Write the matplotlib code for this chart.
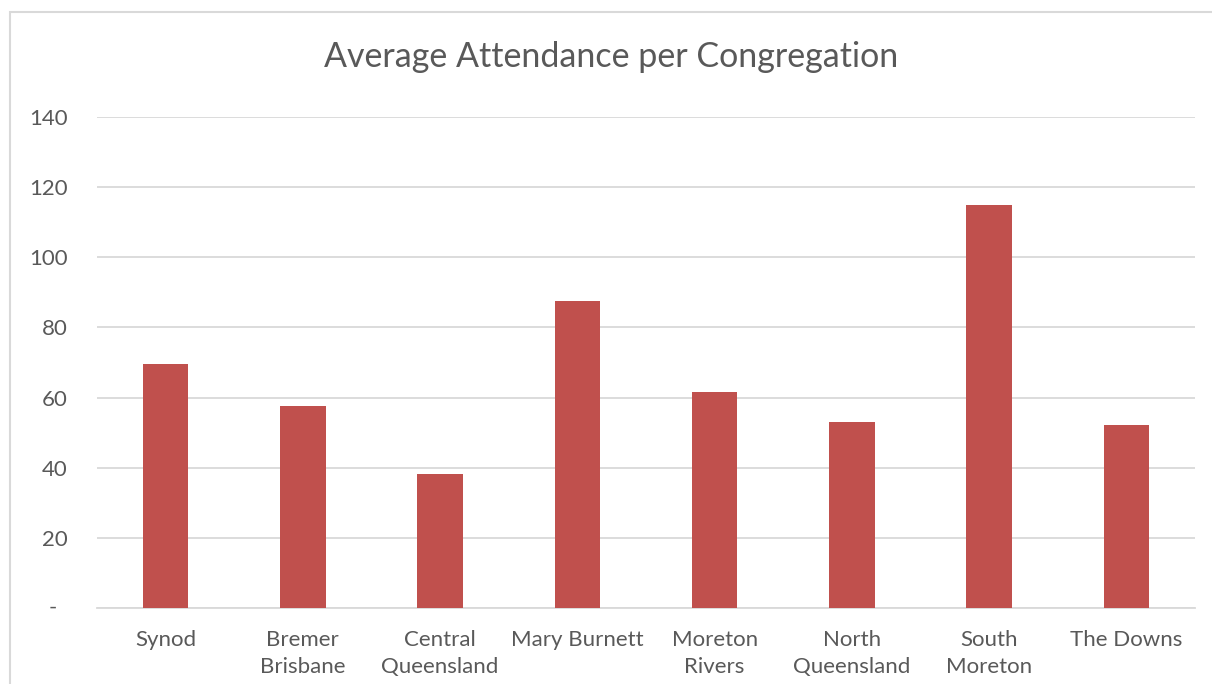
import matplotlib.pyplot as plt
from matplotlib.patches import Rectangle


# ----------------------------------------------------
# Data
# ----------------------------------------------------

categories = [
    "Synod",
    "Bremer\nBrisbane",
    "Central\nQueensland",
    "Mary Burnett",
    "Moreton\nRivers",
    "North\nQueensland",
    "South\nMoreton",
    "The Downs",
]

attendance = [69.5, 57.5, 38.1, 87.5, 61.6, 53.1, 115.0, 52.3]

y_ticks = [0, 20, 40, 60, 80, 100, 120, 140]
y_tick_labels = ["-", "20", "40", "60", "80", "100", "120", "140"]


# ----------------------------------------------------
# Style
# ----------------------------------------------------

plt.rcParams["font.family"] = ["Lato", "DejaVu Sans"]

text_color = "#595959"
grid_color = "#D9D9D9"
bar_color = "#C0504D"


# ----------------------------------------------------
# Figure
# ----------------------------------------------------

fig = plt.figure(figsize=(12.12, 6.84), dpi=100)

# chart border (only top and left edges show in the crop)
fig.patches.append(
    Rectangle(
        (9.5 / 1212, -0.1),
        1.2,
        1.1 - 12 / 684,
        transform=fig.transFigure,
        fill=False,
        edgecolor=grid_color,
        linewidth=1.5,
    )
)

ax = fig.add_axes([97 / 1212, 1 - 608 / 684, 1098 / 1212, 491 / 684])

x = range(len(categories))

ax.bar(x, attendance, width=0.33, color=bar_color, zorder=3)

ax.set_xlim(-0.5, len(categories) - 0.5)
ax.set_ylim(0, 140)

# the zero label is drawn by hand below (accounting style dash sits further left)
ax.set_yticks(y_ticks)
ax.set_yticklabels([""] + y_tick_labels[1:])

ax.text(
    -(97 - 57) / 1098,
    y_ticks[0],
    y_tick_labels[0],
    transform=ax.get_yaxis_transform(),
    ha="right",
    va="center",
    fontsize=16,
    color=text_color,
)

ax.set_xticks(list(x))
ax.set_xticklabels(categories, linespacing=1.45)

ax.grid(axis="y", color=grid_color, linewidth=1.3, zorder=0)

for side in ["top", "right", "left"]:
    ax.spines[side].set_visible(False)

ax.spines["bottom"].set_color(grid_color)
ax.spines["bottom"].set_linewidth(1.3)

ax.tick_params(axis="both", length=0, labelcolor=text_color, labelsize=16)
ax.tick_params(axis="y", pad=21)
ax.tick_params(axis="x", pad=16)

fig.text(
    0.5 + 5 / 1212,
    1 - 57 / 684,
    "Average Attendance per Congregation",
    ha="center",
    va="center",
    fontsize=24.5,
    color=text_color,
)

plt.savefig("out.png", dpi=100)

plt.close()
